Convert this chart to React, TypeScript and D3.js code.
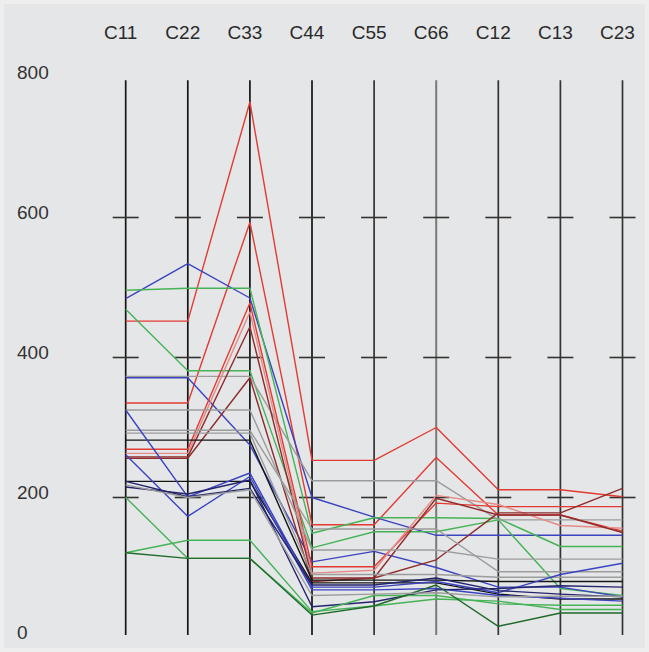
import React from "react";
import * as d3 from "d3";

// Parallel-coordinates plot of nine stiffness components.
const dimensions = ["C11", "C22", "C33", "C44", "C55", "C66", "C12", "C13", "C23"];
const yTicks = [0, 200, 400, 600, 800];
const crossTicks = [200, 400, 600];

// One record per sample: values on C11..C23 and its stroke colour.
const red = "#e23b34";
const pink = "#e58a86";
const maroon = "#8e2c2c";
const green = "#46b356";
const darkGreen = "#1f6a2b";
const blue = "#3b43c0";
const navy = "#24246e";
const gray = "#9c9c9c";
const black = "#151515";

const sampleValues: number[][] = [
  [452, 452, 765, 253, 253, 300, 211, 211, 201],
  [335, 335, 593, 161, 161, 257, 175, 175, 152],
  [484, 534, 485, 200, 172, 146, 146, 146, 146],
  [496, 499, 499, 149, 171, 171, 170, 130, 130],
  [469, 381, 381, 128, 151, 151, 168, 70, 60],
  [373, 373, 373, 224, 224, 224, 168, 168, 168],
  [371, 371, 275, 108, 123, 100, 72, 72, 58],
  [269, 269, 478, 101, 101, 192, 187, 187, 187],
  [263, 263, 465, 92, 96, 203, 190, 160, 156],
  [258, 258, 444, 85, 85, 199, 175, 175, 150],
  [256, 256, 371, 80, 85, 111, 178, 178, 213],
  [325, 325, 325, 125, 125, 125, 112, 112, 112],
  [296, 296, 296, 155, 155, 155, 94, 94, 94],
  [292, 292, 292, 90, 90, 90, 86, 86, 86],
  [282, 282, 282, 82, 82, 82, 80, 80, 80],
  [223, 223, 223, 78, 78, 78, 62, 55, 55],
  [325, 201, 235, 72, 72, 80, 64, 90, 106],
  [261, 173, 230, 68, 68, 70, 60, 56, 52],
  [223, 201, 213, 75, 75, 85, 67, 62, 58],
  [215, 205, 225, 44, 51, 68, 70, 74, 72],
  [200, 113, 113, 35, 60, 60, 48, 46, 46],
  [121, 139, 139, 37, 45, 55, 52, 40, 40],
  [121, 113, 113, 32, 45, 75, 16, 35, 35],
  [218, 200, 211, 60, 62, 64, 58, 59, 59],
];
const sampleColors = [
  red, red, blue, green, green, gray, blue, red, pink, maroon, maroon, gray,
  gray, gray, black, black, blue, blue, navy, navy, green, green, darkGreen, gray,
];

const WIDTH = 649;
const HEIGHT = 652;

export default function App() {
  const x = d3.scalePoint<string>().domain(dimensions).range([125.7, 622.5]);
  const y = d3.scaleLinear().domain([0, 800]).range([637.5, 77.5]);
  const line = d3
    .line<[number, number]>()
    .x((d) => d[0])
    .y((d) => d[1]);

  const axisTopY = y(796);
  const axisBottomY = y(3.6);

  return (
    <svg
      width={WIDTH}
      height={HEIGHT}
      style={{ position: "absolute", left: 0, top: 0, background: "#e6e7e8" }}
      fontFamily="'Liberation Sans', Arial, sans-serif"
    >
      <rect x={0} y={0} width={WIDTH} height={HEIGHT} fill="#eeeeef" />
      <rect x={4} y={4} width={WIDTH - 8} height={HEIGHT - 8} fill="#e5e6e7" />

      {yTicks.map((t) => (
        <text key={t} x={17} y={y(t) + 1} fontSize={19} fill="#333">
          {t}
        </text>
      ))}

      {dimensions.map((dim) => (
        <text
          key={dim}
          x={(x(dim) ?? 0) - 5}
          y={39}
          fontSize={19}
          textAnchor="middle"
          fill="#2a2a2a"
        >
          {dim}
        </text>
      ))}

      {dimensions.map((dim) => (
        <line
          key={dim}
          x1={x(dim)}
          x2={x(dim)}
          y1={axisTopY}
          y2={axisBottomY}
          stroke={dim === "C66" ? "#7a7a7a" : ["C11", "C22", "C33", "C44"].includes(dim) ? "#151515" : "#333"}
          strokeWidth={dim === "C66" ? 2 : 1.7}
        />
      ))}

      {dimensions.map((dim) =>
        crossTicks.map((t) => (
          <line
            key={dim + t}
            x1={(x(dim) ?? 0) - 13}
            x2={(x(dim) ?? 0) + 13}
            y1={y(t)}
            y2={y(t)}
            stroke="#333"
            strokeWidth={1.6}
          />
        ))
      )}

      <g fill="none" strokeWidth={1.4} strokeLinejoin="round">
        {sampleValues.map((vals, i) => (
          <path
            key={i}
            d={line(vals.map((v, j) => [x(dimensions[j]) ?? 0, y(v)])) ?? ""}
            stroke={sampleColors[i]}
          />
        ))}
      </g>
    </svg>
  );
}
